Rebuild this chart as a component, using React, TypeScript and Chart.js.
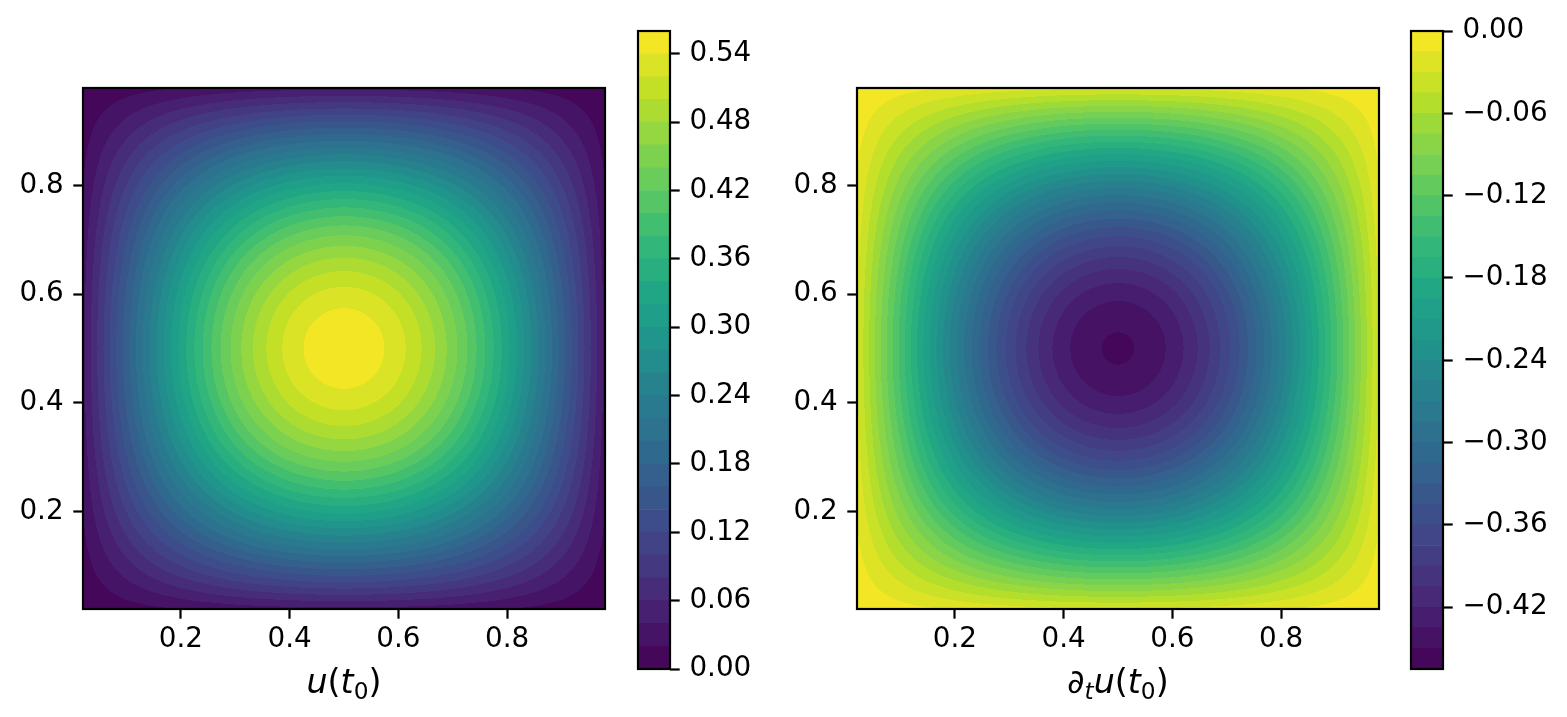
import React, { useEffect, useRef } from "react";
import { Chart, registerables } from "chart.js";
Chart.register(...registerables);

// ---------------- data ----------------
// samples along the centre line y = 0.5, at x = gridNodes
const gridNodes = [0, 0.05, 0.1, 0.15, 0.2, 0.25, 0.3, 0.35, 0.4, 0.45, 0.5, 0.55, 0.6, 0.65, 0.7, 0.75, 0.8, 0.85, 0.9, 0.95, 1];
const uCentreLine = [0, 0.0868, 0.1715, 0.252, 0.3262, 0.3924, 0.449, 0.4945, 0.5278, 0.5482, 0.555, 0.5482, 0.5278, 0.4945, 0.449, 0.3924, 0.3262, 0.252, 0.1715, 0.0868, 0];
const dtuCentreLine = [0, -0.0707, -0.1397, -0.2052, -0.2657, -0.3196, -0.3657, -0.4027, -0.4299, -0.4464, -0.452, -0.4464, -0.4299, -0.4027, -0.3657, -0.3196, -0.2657, -0.2052, -0.1397, -0.0707, 0];

// contour levels
const uLevels = [0, 0.02, 0.04, 0.06, 0.08, 0.1, 0.12, 0.14, 0.16, 0.18, 0.2, 0.22, 0.24, 0.26, 0.28, 0.3, 0.32, 0.34, 0.36, 0.38, 0.4, 0.42, 0.44, 0.46, 0.48, 0.5, 0.52, 0.54, 0.56];
const dtuLevels = [-0.465, -0.45, -0.435, -0.42, -0.405, -0.39, -0.375, -0.36, -0.345, -0.33, -0.315, -0.3, -0.285, -0.27, -0.255, -0.24, -0.225, -0.21, -0.195, -0.18, -0.165, -0.15, -0.135, -0.12, -0.105, -0.09, -0.075, -0.06, -0.045, -0.03, -0.015, 0];

// tick labels
const axisRange = [0.02, 0.98];
const axisTicks = [0.2, 0.4, 0.6, 0.8];
const uBarTicks = [0, 0.06, 0.12, 0.18, 0.24, 0.3, 0.36, 0.42, 0.48, 0.54];
const dtuBarTicks = [0, -0.06, -0.12, -0.18, -0.24, -0.3, -0.36, -0.42];

// axis labels (mathtext pieces)
const uLabelParts = [["u", "it"], ["(", "rm"], ["t", "it"], ["0", "sub"], [")", "rm"]];
const dtuLabelParts = [["\u2202", "rm"], ["t", "subit"], ["u", "it"], ["(", "rm"], ["t", "it"], ["0", "sub"], [")", "rm"]];

// viridis stops
const viridisStops = [
  [0, "#440154"], [0.1, "#482475"], [1 / 9, "#482878"], [0.2, "#414487"], [2 / 9, "#3e4989"],
  [0.3, "#355f8d"], [1 / 3, "#31688e"], [0.4, "#2a788e"], [4 / 9, "#26828e"], [0.5, "#21918c"],
  [5 / 9, "#1f9e89"], [0.6, "#22a884"], [2 / 3, "#35b779"], [0.7, "#44bf70"], [7 / 9, "#6ece58"],
  [0.8, "#7ad151"], [8 / 9, "#b5de2b"], [0.9, "#bddf26"], [1, "#fde725"],
];

// ---------------- helpers ----------------
const FONT = '"DejaVu Sans", sans-serif';
const TICK_SIZE = 27.8;
const LABEL_SIZE = 33.3;
const SUB_SIZE = 23.3;
const TICK_LEN = 9.7;
const LINE_W = 2.2;

function hexToRgb(h: string) {
  return [parseInt(h.slice(1, 3), 16), parseInt(h.slice(3, 5), 16), parseInt(h.slice(5, 7), 16)];
}
function viridis(t: number) {
  t = Math.max(0, Math.min(1, t));
  for (let i = 0; i < viridisStops.length - 1; i++) {
    const [a, ca] = viridisStops[i] as [number, string];
    const [b, cb] = viridisStops[i + 1] as [number, string];
    if (t <= b) {
      const f = (t - a) / (b - a);
      const A = hexToRgb(ca), B = hexToRgb(cb);
      return [0, 1, 2].map((k) => Math.round(A[k] + (B[k] - A[k]) * f));
    }
  }
  return hexToRgb("#fde725");
}
function bandColors(levels: number[]) {
  const lo = levels[0], hi = levels[levels.length - 1];
  const out: number[][] = [];
  for (let i = 0; i < levels.length - 1; i++) {
    const mid = (levels[i] + levels[i + 1]) / 2;
    out.push(viridis((mid - lo) / (hi - lo)));
  }
  return out;
}
function sampleLine(arr: number[], x: number) {
  const n = arr.length;
  const step = gridNodes[1] - gridNodes[0];
  const get = (i: number) => (i < 0 ? -arr[-i] : i > n - 1 ? -arr[2 * (n - 1) - i] : arr[i]);
  const t = (x - gridNodes[0]) / step;
  const i = Math.floor(t);
  const f = t - i;
  const p0 = get(i - 1), p1 = get(i), p2 = get(i + 1), p3 = get(i + 2);
  return 0.5 * (2 * p1 + (-p0 + p2) * f + (2 * p0 - 5 * p1 + 4 * p2 - p3) * f * f + (-p0 + 3 * p1 - 3 * p2 + p3) * f * f * f);
}
function fmt(v: number) {
  const r = Math.round(v * 1000) / 1000;
  return (r < 0 ? "\u2212" : "") + Math.abs(r).toFixed(2);
}

function drawMathLabel(ctx: CanvasRenderingContext2D, parts: string[][], cx: number, baseline: number) {
  const fontOf = (k: string) =>
    k === "it" ? `italic ${LABEL_SIZE}px ${FONT}` :
    k === "sub" ? `${SUB_SIZE}px ${FONT}` :
    k === "subit" ? `italic ${SUB_SIZE}px ${FONT}` : `${LABEL_SIZE}px ${FONT}`;
  const widths = parts.map(([t, k]) => { ctx.font = fontOf(k); return ctx.measureText(t).width; });
  const total = widths.reduce((a, b) => a + b, 0);
  let x = cx - total / 2;
  ctx.save();
  ctx.fillStyle = "#000";
  ctx.textBaseline = "alphabetic";
  ctx.textAlign = "left";
  parts.forEach(([t, k], i) => {
    ctx.font = fontOf(k);
    const drop = k === "sub" || k === "subit" ? 6 : 0;
    ctx.fillText(t, x, baseline + drop);
    x += widths[i];
  });
  ctx.restore();
}

type Box = { left: number; top: number; width: number; height: number };
type Area = { left: number; top: number; right: number; bottom: number };

function makeHeatChart(canvas: HTMLCanvasElement, box: Box, area: Area, line: number[], levels: number[], label: string[][]) {
  const colors = bandColors(levels);
  const peak = sampleLine(line, 0.5);
  const fill = {
    id: "contourFill",
    beforeDatasetsDraw(chart: any) {
      const { ctx, chartArea: a, scales } = chart;
      const w = Math.round(a.right - a.left), h = Math.round(a.bottom - a.top);
      const off = document.createElement("canvas");
      off.width = w; off.height = h;
      const octx = off.getContext("2d")!;
      const img = octx.createImageData(w, h);
      const cols = new Float64Array(w), rows = new Float64Array(h);
      for (let i = 0; i < w; i++) cols[i] = sampleLine(line, scales.x.getValueForPixel(a.left + i + 0.5));
      for (let j = 0; j < h; j++) rows[j] = sampleLine(line, scales.y.getValueForPixel(a.top + j + 0.5));
      const nb = levels.length - 1;
      for (let j = 0; j < h; j++) {
        for (let i = 0; i < w; i++) {
          const v = (cols[i] * rows[j]) / peak;
          let k = 0;
          while (k < nb - 1 && v >= levels[k + 1]) k++;
          const c = colors[k];
          const p = (j * w + i) * 4;
          img.data[p] = c[0]; img.data[p + 1] = c[1]; img.data[p + 2] = c[2]; img.data[p + 3] = 255;
        }
      }
      octx.putImageData(img, 0, 0);
      ctx.drawImage(off, a.left, a.top);
    },
    afterDraw(chart: any) {
      const { ctx, chartArea: a } = chart;
      ctx.save();
      ctx.strokeStyle = "#000";
      ctx.lineWidth = LINE_W;
      ctx.strokeRect(a.left, a.top, a.right - a.left, a.bottom - a.top);
      ctx.restore();
      drawMathLabel(ctx, label, (a.left + a.right) / 2, 692.5);
    },
  };
  const tickOpts = {
    font: { family: FONT, size: TICK_SIZE },
    color: "#000",
    padding: 9.7,
    callback: (v: any) => Number(v).toFixed(1),
  };
  const gridOpts = { display: true, drawOnChartArea: false, drawTicks: true, tickLength: TICK_LEN, tickWidth: LINE_W, tickColor: "#000" };
  return new Chart(canvas, {
    type: "scatter",
    data: { datasets: [] },
    options: {
      responsive: false,
      maintainAspectRatio: false,
      animation: false,
      events: [],
      layout: { autoPadding: false, padding: { left: 0, top: area.top - box.top, right: box.left + box.width - area.right, bottom: 0 } },
      plugins: { legend: { display: false }, tooltip: { enabled: false }, title: { display: false } },
      scales: {
        x: {
          type: "linear", min: axisRange[0], max: axisRange[1],
          grid: gridOpts as any, border: { display: false },
          ticks: { ...tickOpts, padding: 4.6, maxRotation: 0 } as any,
          afterBuildTicks: (s: any) => { s.ticks = axisTicks.map((v) => ({ value: v })); },
          afterFit: (s: any) => { s.height = box.top + box.height - area.bottom; },
        },
        y: {
          type: "linear", min: axisRange[0], max: axisRange[1],
          grid: gridOpts as any, border: { display: false },
          ticks: tickOpts as any,
          afterBuildTicks: (s: any) => { s.ticks = axisTicks.map((v) => ({ value: v })); },
          afterFit: (s: any) => { s.width = area.left - box.left; },
        },
      },
    },
    plugins: [fill],
  } as any);
}

function makeColorbar(canvas: HTMLCanvasElement, box: Box, area: Area, levels: number[], ticks: number[]) {
  const colors = bandColors(levels);
  const outline = {
    id: "cbarOutline",
    afterDraw(chart: any) {
      const { ctx, chartArea: a } = chart;
      ctx.save();
      ctx.strokeStyle = "#000";
      ctx.lineWidth = LINE_W;
      ctx.strokeRect(a.left, a.top, a.right - a.left, a.bottom - a.top);
      ctx.restore();
    },
  };
  return new Chart(canvas, {
    type: "bar",
    data: {
      labels: [""],
      datasets: levels.slice(0, -1).map((lo, i) => ({
        data: [[lo, levels[i + 1]]],
        backgroundColor: `rgb(${colors[i].join(",")})`,
        borderWidth: 0,
        grouped: false,
        barPercentage: 1,
        categoryPercentage: 1,
      })),
    },
    options: {
      responsive: false,
      maintainAspectRatio: false,
      animation: false,
      events: [],
      layout: { autoPadding: false, padding: { left: area.left - box.left, top: area.top - box.top, right: 0, bottom: box.top + box.height - area.bottom } },
      plugins: { legend: { display: false }, tooltip: { enabled: false }, title: { display: false } },
      scales: {
        x: { display: false },
        y: {
          type: "linear", position: "right", min: levels[0], max: levels[levels.length - 1],
          grid: { display: true, drawOnChartArea: false, drawTicks: true, tickLength: TICK_LEN, tickWidth: LINE_W, tickColor: "#000" } as any,
          border: { display: false },
          ticks: { font: { family: FONT, size: TICK_SIZE }, color: "#000", padding: 9.7, callback: (v: any) => fmt(Number(v)) } as any,
          afterBuildTicks: (s: any) => { s.ticks = ticks.map((v) => ({ value: v })); },
          afterFit: (s: any) => { s.width = box.left + box.width - area.right; },
        },
      },
    },
    plugins: [outline],
  } as any);
}

const boxes = {
  uHeat: { left: 0, top: 0, width: 640, height: 717 },
  uBar: { left: 620, top: 0, width: 160, height: 717 },
  dHeat: { left: 780, top: 0, width: 620, height: 717 },
  dBar: { left: 1393, top: 0, width: 174, height: 717 },
};
const areas = {
  uHeat: { left: 83, top: 88, right: 605, bottom: 609 },
  uBar: { left: 638, top: 31, right: 670, bottom: 669 },
  dHeat: { left: 857, top: 88, right: 1379, bottom: 609 },
  dBar: { left: 1411, top: 31, right: 1443, bottom: 669 },
};

export default function App() {
  const r1 = useRef<HTMLCanvasElement>(null);
  const r2 = useRef<HTMLCanvasElement>(null);
  const r3 = useRef<HTMLCanvasElement>(null);
  const r4 = useRef<HTMLCanvasElement>(null);
  useEffect(() => {
    const charts = [
      makeHeatChart(r1.current!, boxes.uHeat, areas.uHeat, uCentreLine, uLevels, uLabelParts),
      makeColorbar(r2.current!, boxes.uBar, areas.uBar, uLevels, uBarTicks),
      makeHeatChart(r3.current!, boxes.dHeat, areas.dHeat, dtuCentreLine, dtuLevels, dtuLabelParts),
      makeColorbar(r4.current!, boxes.dBar, areas.dBar, dtuLevels, dtuBarTicks),
    ];
    return () => charts.forEach((c) => c.destroy());
  }, []);
  const cv = (ref: any, b: Box) => (
    <canvas ref={ref} width={b.width} height={b.height}
      style={{ position: "absolute", left: b.left, top: b.top, width: b.width, height: b.height }} />
  );
  return (
    <div style={{ position: "absolute", left: 0, top: 0, width: 1567, height: 717, background: "#fff", overflow: "hidden" }}>
      {cv(r1, boxes.uHeat)}
      {cv(r2, boxes.uBar)}
      {cv(r3, boxes.dHeat)}
      {cv(r4, boxes.dBar)}
    </div>
  );
}
